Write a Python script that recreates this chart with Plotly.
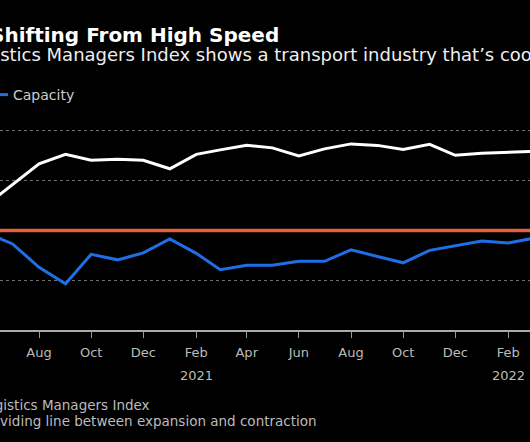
import plotly.graph_objects as go

months = ["2020-06-01", "2020-07-01", "2020-08-01", "2020-09-01", "2020-10-01", "2020-11-01",
          "2020-12-01", "2021-01-01", "2021-02-01", "2021-03-01", "2021-04-01", "2021-05-01",
          "2021-06-01", "2021-07-01", "2021-08-01", "2021-09-01", "2021-10-01", "2021-11-01",
          "2021-12-01", "2022-01-01", "2022-02-01", "2022-03-01"]
prices = [55.2, 59.3, 63.4, 65.3, 64.1, 64.3, 64.1, 62.4, 65.3, 66.2, 67.1, 66.6,
          65.0, 66.4, 67.4, 67.1, 66.3, 67.3, 65.1, 65.5, 65.7, 65.9]
capacity = [49.5, 47.3, 42.6, 39.3, 45.2, 44.1, 45.5, 48.3, 45.4, 42.1, 43.0, 43.0,
            43.8, 43.8, 46.1, 44.8, 43.5, 46.0, 46.9, 47.9, 47.5, 48.4]
threshold = 50
tick_dates = ["2020-08-01", "2020-10-01", "2020-12-01", "2021-02-01", "2021-04-01", "2021-06-01",
              "2021-08-01", "2021-10-01", "2021-12-01", "2022-02-01"]
tick_labels = ["Aug", "Oct", "Dec", "Feb", "Apr", "Jun", "Aug", "Oct", "Dec", "Feb"]
year_dates = ["2021-02-01", "2022-02-01"]
year_labels = ["2021", "2022"]
y_grid = [40, 60, 70]

W, H = 530, 442
TOP, BOT = 121, 330
FONT = "DejaVu Sans"

def px(x):
    return x / W

def py(y):
    return (BOT - y) / (BOT - TOP)

fig = go.Figure()
fig.add_trace(go.Scatter(x=months, y=prices, mode="lines", name="Transportation prices",
                         line=dict(color="#ffffff", width=3), showlegend=False))
fig.add_trace(go.Scatter(x=months, y=capacity, mode="lines", name="Capacity",
                         line=dict(color="#1e6fe6", width=3)))
fig.add_hline(y=threshold, line=dict(color="#e5603b", width=3.5), layer="above")

fig.update_layout(
    width=W, height=H,
    paper_bgcolor="#000000", plot_bgcolor="#000000",
    margin=dict(l=0, r=0, t=TOP, b=H - BOT, pad=0, autoexpand=False),
    font=dict(family=FONT, color="#cccccc"),
    legend=dict(orientation="h", x=px(-27), y=py(95), xanchor="left", yanchor="middle",
                font=dict(size=14, color="#cccccc"), bgcolor="rgba(0,0,0,0)"),
    xaxis=dict(range=["2020-06-16T08:00", "2022-02-26T10:00"], tickvals=tick_dates,
               ticktext=tick_labels, ticks="outside", ticklen=6, tickcolor="#999999",
               showgrid=False, showline=True, linecolor="#aaaaaa", linewidth=1.5,
               tickfont=dict(size=13, color="#bbbbbb"), zeroline=False,
               ticklabelstandoff=4),
    yaxis=dict(range=[30, 72], tickvals=y_grid, showticklabels=False, showgrid=True,
               gridcolor="#707070", griddash="dot", gridwidth=1, zeroline=False),
)

for d, lab in zip(year_dates, year_labels):
    fig.add_annotation(x=d, xref="x", y=py(375), yref="paper", text=lab, showarrow=False,
                       xanchor="center", yanchor="middle", borderpad=0,
                       font=dict(size=13, color="#bbbbbb"))

anns = [
    dict(text="<b>Shifting From High Speed</b>", x=px(278.5), y=py(35), xanchor="right",
         yanchor="middle", font=dict(size=20, color="#ffffff")),
    dict(text="Logistics Managers Index shows a transport industry that\u2019s cooling",
         x=px(-37), y=py(54), xanchor="left", yanchor="middle",
         font=dict(size=18, color="#eeeeee")),
    dict(text="Source: Logistics Managers Index", x=px(149.5), y=py(405), xanchor="right",
         yanchor="middle", font=dict(size=13.5, color="#bbbbbb")),
    dict(text="Note: 50 is the dividing line between expansion and contraction",
         x=px(317), y=py(421), xanchor="right", yanchor="middle",
         font=dict(size=13.5, color="#bbbbbb")),
]
for a in anns:
    fig.add_annotation(xref="paper", yref="paper", showarrow=False, borderpad=0,
                       borderwidth=0, **a)

fig.write_html("out.html", config={"displayModeBar": False},
               post_script="document.body.style.margin='0';"
               "document.body.style.background='#000';document.body.style.overflow='hidden';")
